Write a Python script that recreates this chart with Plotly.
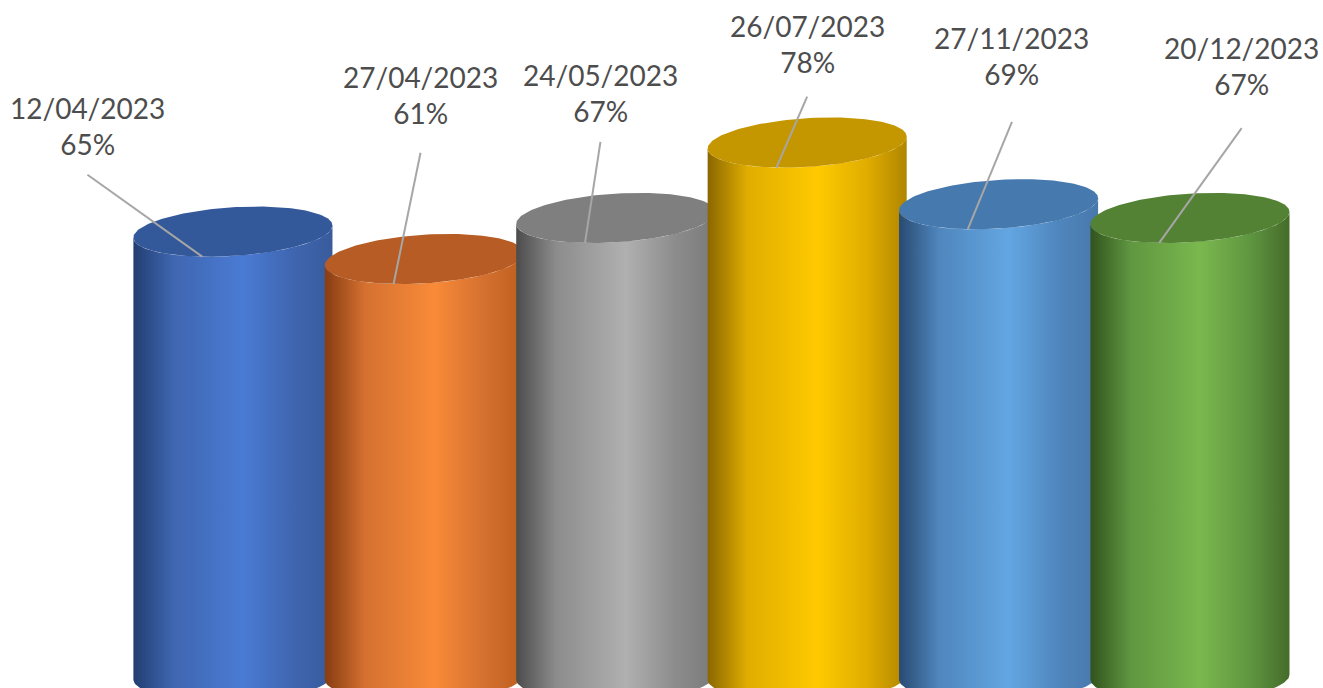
import numpy as np
import plotly.graph_objects as go

# ---- data ----
dates = ["12/04/2023", "27/04/2023", "24/05/2023", "26/07/2023", "27/11/2023", "20/12/2023"]
values = [65, 61, 67, 78, 69, 67]
labels = [f"{d}<br>{v}%" for d, v in zip(dates, values)]

# ---- styles ----
side_dark = ["#223E72", "#873C12", "#4C4C4C", "#8A6700", "#284A72", "#32531E"]
side_mid = ["#3F66B0", "#D47030", "#8C8C8C", "#E0AD00", "#4F86BD", "#5F9640"]
side_light = ["#4A7BD4", "#F98B38", "#B0B0B0", "#FFCA00", "#63A6E2", "#7AB84E"]
side_right = ["#395B9C", "#BD5F1E", "#7A7A7A", "#B08500", "#4878AC", "#456C2B"]
top_color = ["#34599A", "#B65C24", "#7F7F7F", "#C49600", "#4679AE", "#548235"]

# label (text block centre) and leader start offsets, data units, relative to bar centre / top
label_dx = [-0.76, -0.02, -0.08, 0.0, 0.07, 0.27]
label_dy = [15.4, 23.9, 18.3, 14.4, 21.6, 22.1]
lead_dy = [8.3, 15.5, 11.1, 6.7, 12.0, 13.1]

A = 0.52      # half width of cylinder (x units)
B = 3.55      # half height of ellipse (y units)
K_TOP = 0.88  # tilt of top ellipse
K_BOT = 0.36  # tilt of bottom ellipse
T_LEAD = np.deg2rad(-108)

fig = go.Figure()
x_pos = list(range(len(values)))

for i, (cx, v) in enumerate(zip(x_pos, values)):
    t_top = np.linspace(np.pi, 2 * np.pi, 80)
    t_bot = np.linspace(2 * np.pi, np.pi, 80)
    bx = np.concatenate([cx + A * np.cos(t_top), cx + A * np.cos(t_bot)])
    by = np.concatenate([v + B * np.sin(t_top) + K_TOP * np.cos(t_top),
                         0 + B * np.sin(t_bot) + K_BOT * np.cos(t_bot)])
    bx = np.append(bx, bx[0])
    by = np.append(by, by[0])
    fig.add_trace(go.Scatter(
        x=bx, y=by, mode="lines", fill="toself", line=dict(width=0),
        fillgradient=dict(type="horizontal",
                          colorscale=[[0, side_dark[i]], [0.2, side_mid[i]], [0.55, side_light[i]],
                                      [0.8, side_mid[i]], [1, side_right[i]]]),
        hoverinfo="skip", showlegend=False))
    t = np.linspace(0, 2 * np.pi, 160)
    fig.add_trace(go.Scatter(
        x=cx + A * np.cos(t), y=v + B * np.sin(t) + K_TOP * np.cos(t),
        mode="lines", fill="toself", fillcolor=top_color[i],
        line=dict(width=0), hoverinfo="skip", showlegend=False))

# leader lines and labels
for i, (cx, v) in enumerate(zip(x_pos, values)):
    lx = cx + label_dx[i]
    ex = cx + A * np.cos(T_LEAD)
    ey = v + B * np.sin(T_LEAD) + K_TOP * np.cos(T_LEAD)
    fig.add_trace(go.Scatter(x=[lx, ex], y=[v + lead_dy[i], ey], mode="lines",
                             line=dict(color="#A6A6A6", width=2),
                             hoverinfo="skip", showlegend=False))
    fig.add_annotation(x=lx, y=v + label_dy[i], text=labels[i], showarrow=False,
                       xanchor="center", yanchor="middle",
                       font=dict(family="Lato", size=28, color="#4D4D4D"))

fig.update_layout(
    width=1323, height=688,
    margin=dict(l=0, r=0, t=0, b=0),
    paper_bgcolor="white", plot_bgcolor="white",
    xaxis=dict(range=[-1.217, 5.695], visible=False, fixedrange=True),
    yaxis=dict(range=[-1.6, 98.8], visible=False, fixedrange=True),
)

fig.write_html("out.html", config={"displayModeBar": False},
               post_script="document.body.style.margin='0';")
